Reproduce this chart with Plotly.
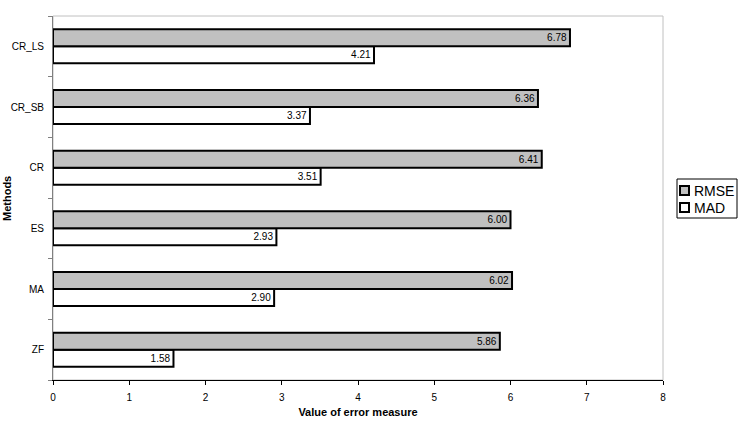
import plotly.graph_objects as go

methods = ["ZF", "MA", "ES", "CR", "CR_SB", "CR_LS"]
rmse = [5.86, 6.02, 6.00, 6.41, 6.36, 6.78]
mad = [1.58, 2.90, 2.93, 3.51, 3.37, 4.21]
x_ticks = [0, 1, 2, 3, 4, 5, 6, 7, 8]

FONT = "Liberation Sans, Arial, sans-serif"
RMSE_COLOR = "#C0C0C0"
MAD_COLOR = "#FFFFFF"

# plot area in pixels
L, R, T, B = 53, 663, 16, 380
W, H = 746, 428


def px(x):
    return (x - L) / (R - L)


def py(y):
    return (B - y) / (B - T)


fig = go.Figure()
fig.add_trace(go.Bar(
    y=methods, x=mad, orientation="h", name="MAD",
    marker=dict(color=MAD_COLOR, line=dict(color="#000000", width=2)),
    text=[f"{v:.2f}" for v in mad], textposition="inside", insidetextanchor="end",
    textfont=dict(family=FONT, size=10, color="#000000"), constraintext="none",
))
fig.add_trace(go.Bar(
    y=methods, x=rmse, orientation="h", name="RMSE",
    marker=dict(color=RMSE_COLOR, line=dict(color="#000000", width=2)),
    text=[f"{v:.2f}" for v in rmse], textposition="inside", insidetextanchor="end",
    textfont=dict(family=FONT, size=10, color="#000000"), constraintext="none",
))

shapes = [
    dict(type="rect", xref="paper", yref="paper", x0=0, x1=1, y0=0, y1=1,
         line=dict(color="#C0C0C0", width=1), layer="below"),
    # legend box
    dict(type="rect", xref="paper", yref="paper", x0=px(677), x1=px(737), y0=py(218), y1=py(179),
         line=dict(color="#000000", width=1), fillcolor="white"),
    dict(type="rect", xref="paper", yref="paper", x0=px(680), x1=px(689), y0=py(195), y1=py(186),
         line=dict(color="#000000", width=2), fillcolor=RMSE_COLOR),
    dict(type="rect", xref="paper", yref="paper", x0=px(680), x1=px(689), y0=py(212), y1=py(203),
         line=dict(color="#000000", width=2), fillcolor=MAD_COLOR),
]

annotations = [
    dict(text="<b>Methods</b>", xref="paper", yref="paper",
         x=px(7), y=0.5, xanchor="center", yanchor="middle",
         textangle=-90, showarrow=False, font=dict(size=11, family=FONT)),
    dict(text="RMSE", xref="paper", yref="paper", x=px(693), y=py(190.5),
         xanchor="left", yanchor="middle", showarrow=False, borderpad=0,
         font=dict(size=14, family=FONT)),
    dict(text="MAD", xref="paper", yref="paper", x=px(693), y=py(208),
         xanchor="left", yanchor="middle", showarrow=False, borderpad=0,
         font=dict(size=14, family=FONT)),
]

fig.update_layout(
    width=W, height=H,
    margin=dict(l=L, r=W - R, t=T, b=H - B, autoexpand=False),
    paper_bgcolor="white", plot_bgcolor="white",
    barmode="group", bargap=0.44, bargroupgap=0,
    font=dict(family=FONT, size=10, color="#000000"),
    showlegend=False,
    xaxis=dict(
        range=[0, 8], tickvals=x_ticks, ticks="outside", ticklen=4, tickcolor="#000000",
        showgrid=False, zeroline=False, showline=True, linecolor="#000000", linewidth=1,
        tickfont=dict(size=10, family=FONT), ticklabelstandoff=4,
        title=dict(text="<b>Value of error measure</b>", font=dict(size=11, family=FONT), standoff=6),
    ),
    yaxis=dict(
        type="category", categoryorder="array", categoryarray=methods,
        ticks="outside", ticklen=4, tickson="boundaries", tickcolor="#808080",
        showgrid=False, zeroline=False, showline=True, linecolor="#808080", linewidth=1,
        tickfont=dict(size=10, family=FONT), ticklabelstandoff=6,
    ),
    shapes=shapes,
    annotations=annotations,
)

fig.write_html("out.html")
